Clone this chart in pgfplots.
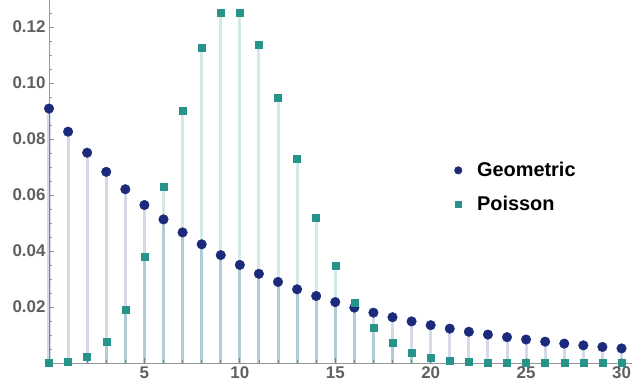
\documentclass[border=0pt]{standalone}
\usepackage{pgfplots}
\usepackage{pgfplotstable}
\pgfplotsset{compat=1.18}
\usepackage{fontspec}
\setmainfont{Liberation Sans}
\definecolor{geo}{RGB}{27,42,122}
\definecolor{poi}{RGB}{38,148,138}
\definecolor{tickgray}{RGB}{96,96,96}
\definecolor{axgray}{RGB}{150,150,150}

\pgfplotstableread{
k geo poi
0 0.090909 0.0000454
1 0.082645 0.000454
2 0.075131 0.002270
3 0.068301 0.007567
4 0.062092 0.018917
5 0.056447 0.037833
6 0.051316 0.063055
7 0.046651 0.090079
8 0.042410 0.112599
9 0.038554 0.125110
10 0.035049 0.125110
11 0.031863 0.113736
12 0.028966 0.094780
13 0.026333 0.072908
14 0.023939 0.052077
15 0.021763 0.034718
16 0.019784 0.021699
17 0.017986 0.012764
18 0.016351 0.007091
19 0.014864 0.003732
20 0.013513 0.001866
21 0.012285 0.000889
22 0.011168 0.000404
23 0.010153 0.000176
24 0.009230 0.0000732
25 0.008391 0.0000293
26 0.007628 0.0000113
27 0.006934 0.0000042
28 0.006304 0.0000015
29 0.005731 0.0000005
30 0.005210 0.0000002
}\data

\begin{document}
\begin{tikzpicture}
\path[use as bounding box] (-49bp,-27bp) rectangle (583bp,363bp);
\begin{axis}[
  at={(0,0)}, anchor=south west,
  scale only axis, width=583bp, height=363bp,
  xmin=0, xmax=30.55, ymin=0, ymax=0.1297,
  axis lines=left,
  axis line style={-, axgray, line width=0.8bp},
  xtick={5,10,15,20,25,30},
  ytick={0.02,0.04,0.06,0.08,0.10,0.12},
  minor xtick={0,1,2,3,4,6,7,8,9,11,12,13,14,16,17,18,19,21,22,23,24,26,27,28,29},
  minor ytick={0.005,0.01,0.015,0.025,0.03,0.035,0.045,0.05,0.055,0.065,0.07,0.075,0.085,0.09,0.095,0.105,0.11,0.115,0.125},
  tick align=inside,
  major tick length=5bp, minor tick length=3bp,
  tick style={axgray, line width=0.8bp},
  ticklabel style={font=\bfseries\fontsize{17}{17}\selectfont, text=tickgray},
  /pgf/number format/assume math mode=true,
  scaled y ticks=false,
  y tick label style={/pgf/number format/fixed, /pgf/number format/fixed zerofill, /pgf/number format/precision=2},
  clip=false,
  legend style={draw=none, fill=none, at={(0.69,0.484)}, anchor=west,
    font=\bfseries\fontsize{20}{20}\selectfont, row sep=14bp,
    /tikz/every odd column/.append style={column sep=13bp}},
  legend cell align=left,
]
\addplot[ycomb, draw=geo, draw opacity=0.18, line width=3bp, forget plot] table[x=k,y=geo]{\data};
\addplot[ycomb, draw=poi, draw opacity=0.2, line width=3bp, forget plot] table[x=k,y=poi]{\data};
\addplot[only marks, mark=*, mark size=4.8bp, draw=geo, fill=geo, legend image post style={mark size=3.8bp}] table[x=k,y=geo]{\data};
\addlegendentry{Geometric}
\addplot[only marks, mark=square*, mark size=3.5bp, draw=poi, fill=poi, legend image post style={mark size=2.8bp}] table[x=k,y=poi]{\data};
\addlegendentry{Poisson}
\end{axis}
\end{tikzpicture}
\end{document}
